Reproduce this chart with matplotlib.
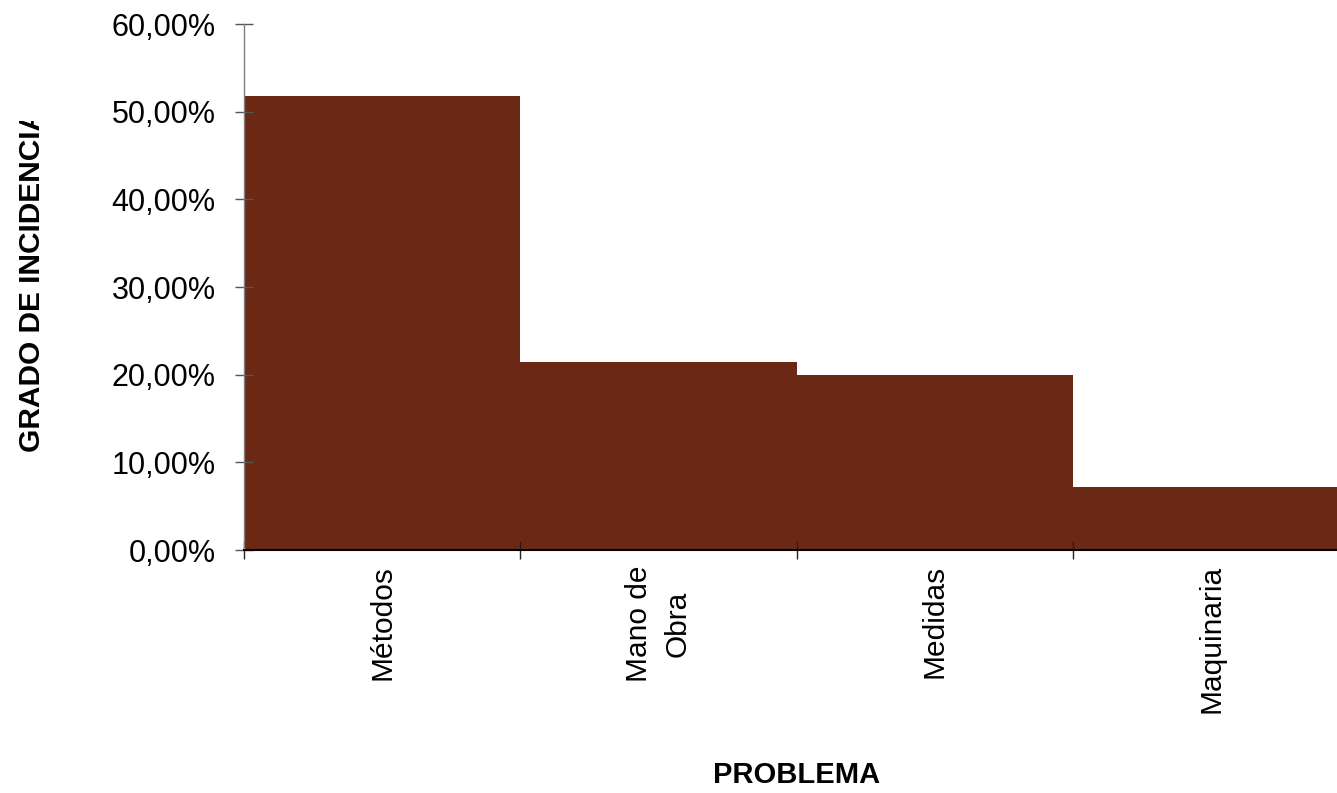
import matplotlib
matplotlib.use("Agg")
import matplotlib.pyplot as plt
from matplotlib.ticker import FixedLocator, FuncFormatter
from matplotlib.transforms import Bbox

plt.rcParams['font.family'] = ['Liberation Sans', 'DejaVu Sans']

# grado de incidencia por problema (%)
problemas = ["Métodos", "Mano de\nObra", "Medidas", "Maquinaria"]
incidencia = [51.8, 21.5, 20.0, 7.2]
yticks = [0, 10, 20, 30, 40, 50, 60]

bar_color = "#6a2815"

fig = plt.figure(figsize=(13.37, 7.93), dpi=100)
# the plot area runs a little past the right edge of the figure
ax = fig.add_axes([0.1825, 0.3064, 0.8266, 0.6633])

pos = list(range(len(problemas)))
ax.bar(pos, incidencia, width=1.0, color=bar_color, linewidth=0)

ax.set_xlim(-0.5, len(problemas) - 0.5)
ax.set_ylim(0, 60)

for s in ["top", "right"]:
    ax.spines[s].set_visible(False)
ax.spines["left"].set_color("#7f7f7f")
ax.spines["left"].set_linewidth(1.0)
ax.spines["bottom"].set_color("black")
ax.spines["bottom"].set_linewidth(1.5)

# y axis
ax.yaxis.set_major_locator(FixedLocator(yticks))
ax.yaxis.set_major_formatter(FuncFormatter(lambda v, p: ("%.2f%%" % v).replace(".", ",")))
ax.tick_params(axis="y", direction="inout", length=13, width=1.0, color="#555555",
               labelsize=22, pad=14)

# x axis: tick marks between categories, labels at the centres
ax.xaxis.set_major_locator(FixedLocator([p - 0.5 for p in pos]))
ax.xaxis.set_major_formatter(FuncFormatter(lambda v, p: ""))
ax.xaxis.set_minor_locator(FixedLocator(pos))
ax.set_xticklabels(problemas, minor=True, rotation=90, fontsize=21.5,
                   va="top", ha="center", multialignment="center", linespacing=1.5)
ax.tick_params(axis="x", which="major", direction="inout", length=13, width=1.0, color="#222222")
ax.tick_params(axis="x", which="minor", length=0, pad=11)

ax.set_xlabel("PROBLEMA", fontsize=21, fontweight="bold", va="center")
ax.xaxis.set_label_coords(0.5, -0.428)

yl = ax.set_ylabel("GRADO DE INCIDENCIA", fontsize=21.5, fontweight="bold", va="center")
ax.yaxis.set_label_coords(-0.192, 0.513)
# label box is cut off near the top
yl.set_clip_box(Bbox.from_extents(0, 0, 1337, 793 - 121))
yl.set_clip_on(True)

fig.savefig("out.png", dpi=100)
